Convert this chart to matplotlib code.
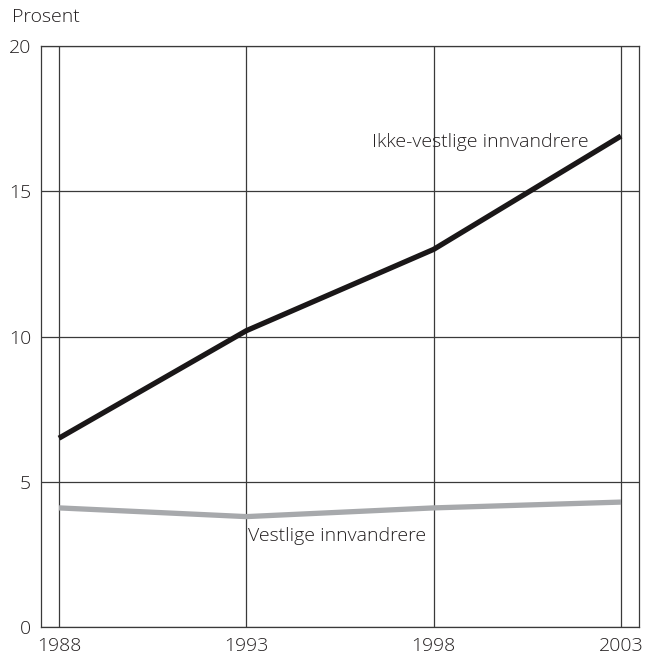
#!/usr/bin/env python3

# Line chart: share (prosent) for western and non-western immigrants, 1988-2003.

import matplotlib
matplotlib.use("Agg")
import matplotlib.pyplot as plt

plt.rcParams["font.family"] = ["Open Sans", "DejaVu Sans"]
plt.rcParams["font.weight"] = "light"

years = [1988, 1993, 1998, 2003]
ikke_vestlige = [6.5, 10.2, 13.0, 16.9]
vestlige = [4.1, 3.8, 4.1, 4.3]
y_ticks = [0, 5, 10, 15, 20]

fig = plt.figure(figsize=(6.46, 6.57), dpi=100)
ax = fig.add_axes([41 / 646, 30 / 657, 598 / 646, 581 / 657])

ax.plot(years, vestlige, color="#a7a9ac", linewidth=3.8, solid_capstyle="butt", zorder=3)
ax.plot(years, ikke_vestlige, color="#1a1718", linewidth=3.8, solid_capstyle="butt", zorder=4)

ax.set_xlim(1987.52, 2003.48)
ax.set_ylim(0, 20)
ax.set_xticks(years)
ax.set_yticks(y_ticks)
ax.tick_params(length=0, labelsize=14, colors="#231f20", pad=7)
ax.grid(True, color="#3a3a3a", linewidth=0.9)
for s in ax.spines.values():
    s.set_color("#3a3a3a")
    s.set_linewidth(0.9)

ax.text(2002.14, 16.52, "Ikke-vestlige innvandrere", ha="right", va="baseline",
        fontsize=14, color="#231f20")
ax.text(1993.05, 2.96, "Vestlige innvandrere", ha="left", va="baseline",
        fontsize=14, color="#231f20")
fig.text(12 / 646, 1 - 17 / 657, "Prosent", ha="left", va="center",
         fontsize=14, color="#231f20")

fig.savefig("out.png", dpi=100)
